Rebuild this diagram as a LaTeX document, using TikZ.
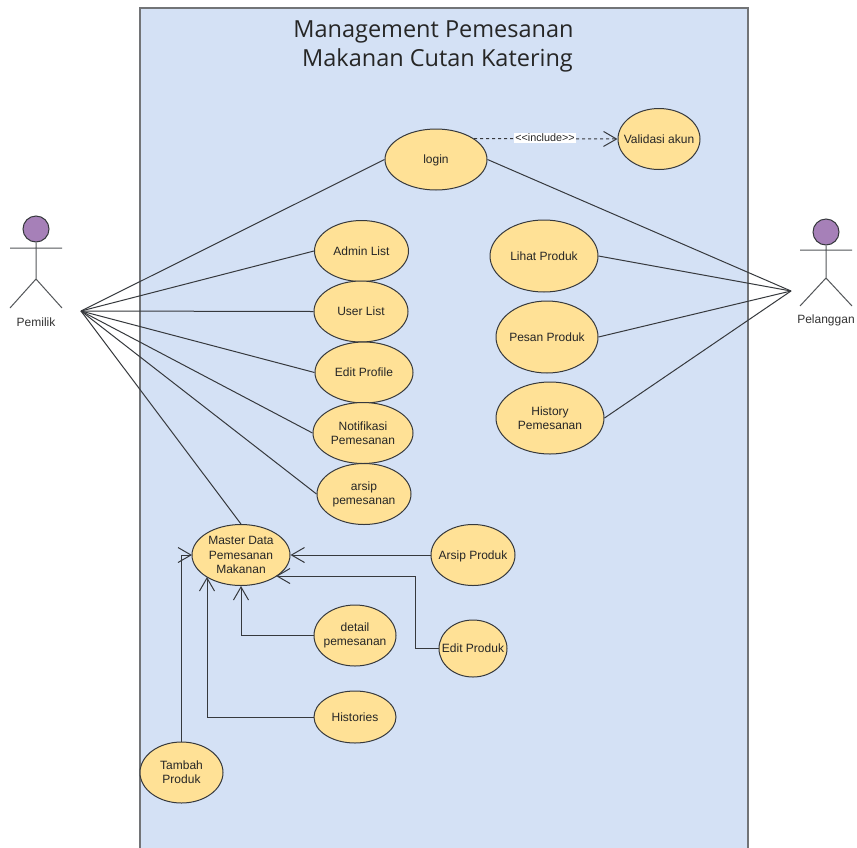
\documentclass[tikz,border=0pt]{standalone}
\usepackage{fontspec}
\setmainfont{Liberation Sans}
\newfontfamily\titlefont{Open Sans}
\usetikzlibrary{shapes.geometric,arrows.meta}
\definecolor{sysblue}{HTML}{D4E1F5}
\definecolor{ucfill}{HTML}{FFE196}
\definecolor{actfill}{HTML}{A680B8}
\definecolor{stroke}{HTML}{36393D}
\tikzset{
  uc/.style={ellipse,draw=stroke,fill=ucfill,line width=1pt,inner xsep=-45pt,inner ysep=-25pt,align=center,
    font=\fontsize{12}{14.2}\selectfont,text=black!85},
  oneline/.style={text height=9.5pt,text depth=1.5pt},
  link/.style={draw=stroke,line width=1pt},
  openarrow/.style={link,-{Straight Barb[length=13pt,width=15pt,line width=1pt]}},
  actorline/.style={draw=stroke!85,line width=1pt},
  actorlabel/.style={inner sep=0pt,font=\fontsize{12}{14}\selectfont,text=black!80},
}
\begin{document}
\begin{tikzpicture}[x=1pt,y=-1pt]
\useasboundingbox (0,0) rectangle (857,847);
\begin{scope}
\clip (0,0) rectangle (857,847);
\fill[white] (0,0) rectangle (857,847);
\draw[fill=sysblue,draw=stroke!70,line width=1.2pt] (140,8) rectangle (748,860);
\end{scope}
\node[align=center,inner sep=0pt,font=\titlefont\fontsize{23.5}{29.5}\selectfont,text=black!85] (title) at (437.5,46.5)
  {Management Pemesanan\hspace*{8pt}\\Makanan Cutan Katering};

% actors
\node[circle,draw=stroke,fill=actfill,line width=1pt,minimum size=26pt,inner sep=0pt] (headA) at (36,229) {};
\coordinate (hipA) at (36,279);
\coordinate (armAl) at (10,248); \coordinate (armAr) at (62,248);
\coordinate (legAl) at (10,308); \coordinate (legAr) at (62,308);
\draw[actorline] (headA.south) -- (hipA) (armAl) -- (armAr) (legAl) -- (hipA) -- (legAr);
\node[actorlabel] (pemilik) at (36,322.5) {Pemilik};
\node[circle,draw=stroke,fill=actfill,line width=1pt,minimum size=26pt,inner sep=0pt] (headB) at (826,232) {};
\coordinate (hipB) at (826,278);
\coordinate (armBl) at (800,250); \coordinate (armBr) at (852,250);
\coordinate (legBl) at (800,306); \coordinate (legBr) at (852,306);
\draw[actorline] (headB.south) -- (hipB) (armBl) -- (armBr) (legBl) -- (hipB) -- (legBr);
\node[actorlabel] (pelanggan) at (826,320) {Pelanggan};

\coordinate (hubA) at (81,311);
\coordinate (hubB) at (791,291);

% connector ends
\coordinate (dashS) at (474,138.5);
\coordinate (mEdit) at (276,576);
\coordinate (mDetail) at (241,586);
\coordinate (mHist) at (207,577);
\coordinate (mTambah) at (192,555);

\node[uc,oneline,minimum width=102pt,minimum height=61pt] (login) at (436,159.5) {login};
\node[uc,oneline,minimum width=82pt,minimum height=61pt] (valid) at (659,139) {Validasi akun};
\node[uc,oneline,minimum width=94pt,minimum height=61pt] (admin) at (361.5,251) {Admin List};
\node[uc,oneline,minimum width=94pt,minimum height=61pt] (userl) at (361,311.5) {User List};
\node[uc,oneline,minimum width=98pt,minimum height=61pt] (editp) at (364,372.5) {Edit Profile};
\node[uc,minimum width=100pt,minimum height=61pt] (notif) at (363,433) {Notifikasi\\Pemesanan};
\node[uc,minimum width=94pt,minimum height=61pt] (arsipm) at (364,494) {arsip\\pemesanan};
\node[uc,minimum width=98pt,minimum height=61pt] (master) at (241,555) {Master Data\\Pemesanan\\Makanan};
\node[uc,oneline,minimum width=84pt,minimum height=61pt] (arsipp) at (473,555) {Arsip Produk};
\node[uc,minimum width=82pt,minimum height=61pt] (detail) at (355,635.5) {detail\\pemesanan};
\node[uc,oneline,minimum width=68pt,minimum height=57pt] (editprod) at (473,648.5) {Edit Produk};
\node[uc,oneline,minimum width=82pt,minimum height=52pt] (hist) at (355,717) {Histories};
\node[uc,minimum width=83pt,minimum height=61pt] (tambah) at (181.5,772.5) {Tambah\\Produk};
\node[uc,oneline,minimum width=108pt,minimum height=72pt] (lihat) at (544,256) {Lihat Produk};
\node[uc,oneline,minimum width=102pt,minimum height=72pt] (pesan) at (547,337) {Pesan Produk};
\node[uc,minimum width=108pt,minimum height=72pt] (history) at (550,418) {History\\Pemesanan};

% actor links
\draw[link] (hubA) -- (login.west);
\draw[link] (hubA) -- (admin.west);
\draw[link] (hubA) -- (userl.west);
\draw[link] (hubA) -- (editp.west);
\draw[link] (hubA) -- (notif.west);
\draw[link] (hubA) -- (arsipm.west);
\draw[link] (hubA) -- (master.north);
\draw[link] (hubB) -- (login.east);
\draw[link] (hubB) -- (lihat.east);
\draw[link] (hubB) -- (pesan.east);
\draw[link] (hubB) -- (history.east);

% include
\draw[openarrow,dashed] (dashS) -- (valid.west);
\node[fill=white,inner sep=1pt,font=\fontsize{10.8}{12}\selectfont,text=black!85] (incl) at (545,138) {<{}<include>{}>};

% arrows into master
\draw[openarrow] (arsipp.west) -- (master.east);
\draw[openarrow] (editprod.west) -- ++(-23,0) |- (mEdit);
\draw[openarrow] (detail.west) -| (mDetail);
\draw[openarrow] (hist.west) -| (mHist);
\draw[openarrow] (tambah.north) |- (mTambah);
\end{tikzpicture}
\end{document}
